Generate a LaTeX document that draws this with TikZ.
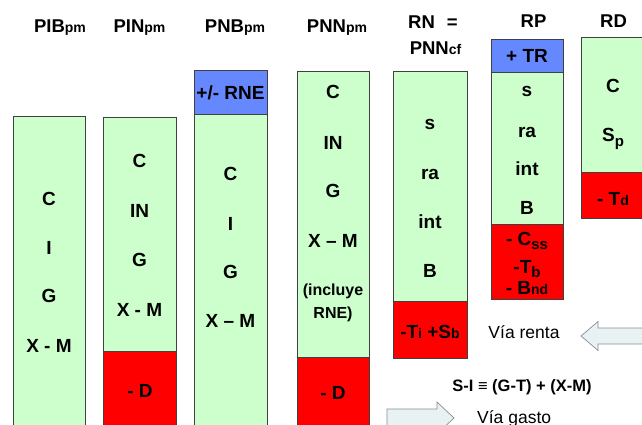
\documentclass[tikz,border=0pt]{standalone}
\usepackage{fontspec}
\setmainfont{Liberation Sans}
\definecolor{lgreen}{RGB}{204,255,204}
\definecolor{lblue}{RGB}{102,136,255}
\definecolor{lred}{RGB}{255,0,0}
\definecolor{edgegray}{RGB}{64,64,64}
\definecolor{arrfill}{RGB}{232,242,245}
\definecolor{arredge}{RGB}{140,140,140}
\newcommand\smsub[1]{{\fontsize{14}{14}\selectfont #1}}
\newcommand\losub[1]{\raisebox{-4.5pt}{\fontsize{15}{15}\selectfont #1}}
\begin{document}
\begin{tikzpicture}[x=1pt,y=-1pt,
  seg/.style={draw=edgegray,line width=0.8pt},
  gseg/.style={seg,fill=lgreen},
  bseg/.style={seg,fill=lblue},
  rseg/.style={seg,fill=lred},
  lab/.style={font=\bfseries\fontsize{19}{19}\selectfont,inner sep=0,anchor=base},
  smlab/.style={font=\bfseries\fontsize{16}{16}\selectfont,inner sep=0,anchor=base},
  ttl/.style={font=\bfseries\fontsize{18.5}{18.5}\selectfont,inner sep=0,anchor=base},
  note/.style={font=\fontsize{17.5}{17.5}\selectfont,inner sep=0,anchor=base},
  fat/.style={draw=arredge,fill=arrfill,line width=0.7pt,line join=miter}]
\useasboundingbox (0,0) rectangle (642,425);
\clip (0,0) rectangle (642,425);
% columns
\path[gseg] (13,116) rectangle (85,440);
\path[gseg] (103,117) rectangle (176,351);
\path[rseg] (103,351) rectangle (176,440);
\path[bseg] (194,70) rectangle (267,114);
\path[gseg] (194,114) rectangle (267,440);
\path[gseg] (297,71) rectangle (369,357);
\path[rseg] (297,357) rectangle (369,440);
\path[gseg] (393,71) rectangle (467,301);
\path[rseg] (393,301) rectangle (467,358);
\path[bseg] (491,39) rectangle (563,72);
\path[gseg] (491,72) rectangle (563,224);
\path[rseg] (491,224) rectangle (563,299);
\path[gseg] (581,37) rectangle (648,172);
\path[rseg] (581,172) rectangle (648,218);
% arrows
\path[fat] (581,336) -- (598,321.5) -- (598,328) -- (650,328) -- (650,344) -- (598,344) -- (598,350.5) -- cycle;
\path[fat] (387,409) -- (437,409) -- (437,402) -- (454,418) -- (437,434) -- (437,427) -- (387,427) -- cycle;
% titles
\node[ttl] (t1) at (60,33) {PIB\smsub{pm}};
\node[ttl] (t2) at (139.5,33) {PIN\smsub{pm}};
\node[ttl] (t3) at (235,33) {PNB\smsub{pm}};
\node[ttl] (t4) at (337,33) {PNN\smsub{pm}};
\node[ttl] (t5) at (433,29) {RN\hspace{12pt}=};
\node[ttl] (t6) at (435.5,55) {PNN\smsub{cf}};
\node[ttl] (t7) at (533.5,28) {RP};
\node[ttl] (t8) at (613.5,28) {RD};
% PIB
\node[lab] (a1) at (49,205) {C};
\node[lab] (a2) at (49,254) {I};
\node[lab] (a3) at (49,302) {G};
\node[lab] (a4) at (49,352) {X - M};
% PIN
\node[lab] (b1) at (139.5,167) {C};
\node[lab] (b2) at (139.5,217) {IN};
\node[lab] (b3) at (139.5,266) {G};
\node[lab] (b4) at (139.5,316) {X - M};
\node[lab] (b5) at (140,397) {- D};
% PNB
\node[lab] (c0) at (230.5,100) {+/- RNE};
\node[lab] (c1) at (230.5,180) {C};
\node[lab] (c2) at (230.5,230) {I};
\node[lab] (c3) at (230.5,278) {G};
\node[lab] (c4) at (230.5,327) {X -- M};
% PNN
\node[lab] (d1) at (333,99) {C};
\node[lab] (d2) at (333,149) {IN};
\node[lab] (d3) at (333,197) {G};
\node[lab] (d4) at (333,247) {X -- M};
\node[smlab] (d5) at (333,295) {(incluye};
\node[smlab] (d6) at (333,318) {RNE)};
\node[lab] (d7) at (333,399) {- D};
% RN
\node[lab] (e1) at (430,130) {s};
\node[lab] (e2) at (430,179) {ra};
\node[lab] (e3) at (430,228) {int};
\node[lab] (e4) at (430,277) {B};
\node[lab] (e5) at (430,338) {-T\smsub{i} +S\smsub{b}};
% RP
\node[lab] (f0) at (527,63) {+ TR};
\node[lab] (f1) at (527,97) {s};
\node[lab] (f2) at (527,137) {ra};
\node[lab] (f3) at (527,175) {int};
\node[lab] (f4) at (527,214) {B};
\node[lab] (f5) at (527,245) {- C\losub{ss}};
\node[lab] (f6) at (527,273) {-T\losub{b}};
\node[lab] (f7) at (527,294) {- B\smsub{nd}};
% RD
\node[lab] (g1) at (613,93) {C};
\node[lab] (g2) at (613,142) {S\losub{p}};
\node[lab] (g3) at (613,205) {- T\smsub{d}};
% notes
\node[note] (n1) at (524,338) {Vía renta};
\node[note,font=\bfseries\fontsize{16.5}{16.5}\selectfont] (n2) at (522,391) {S-I ≡ (G-T) + (X-M)};
\node[note,anchor=base west] (n3) at (477,423) {Vía gasto};
\end{tikzpicture}
\end{document}
